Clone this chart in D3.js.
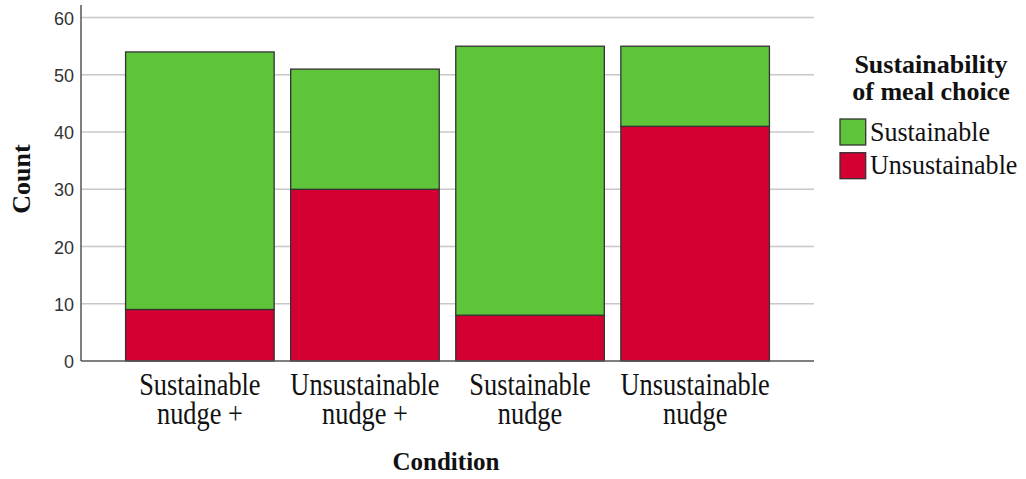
<!DOCTYPE html>
<html><head><meta charset="utf-8">
<script src="https://cdn.jsdelivr.net/npm/d3@7"></script>
<style>body{margin:0;background:#fff}svg{display:block}</style>
</head><body>
<svg id="c" width="1026" height="479"></svg>
<script>
const categories = [["Sustainable","nudge +"],["Unsustainable","nudge +"],["Sustainable","nudge"],["Unsustainable","nudge"]];
const seriesNames = ["Unsustainable","Sustainable"];
const unsustainable = [9, 30, 8, 41];
const sustainable = [45, 21, 47, 14];
const yTicks = [0,10,20,30,40,50,60];
const colors = {Sustainable:"#5ec43a", Unsustainable:"#d50032"};
const legendOrder = ["Sustainable","Unsustainable"];

const svg = d3.select("#c");
const catKeys = categories.map(c=>c.join(" "));
const x = d3.scaleBand().domain(catKeys).range([81,814]).paddingInner(0.1).paddingOuter(0.27);
const y = d3.scaleLinear().domain([0,62.2]).range([361,5]);

// gridlines
svg.append("g").selectAll("line").data(yTicks.filter(d=>d>0)).join("line")
  .attr("x1",81).attr("x2",814).attr("y1",d=>y(d)).attr("y2",d=>y(d))
  .attr("stroke","#c8c8c8").attr("stroke-width",1.5);

// stacked bars
const rows = catKeys.map((k,i)=>({key:k, Unsustainable:unsustainable[i], Sustainable:sustainable[i]}));
const stack = d3.stack().keys(seriesNames)(rows);
svg.append("g").selectAll("g").data(stack).join("g")
  .attr("fill",d=>colors[d.key])
  .selectAll("rect").data(d=>d).join("rect")
  .attr("x",d=>x(d.data.key)).attr("width",x.bandwidth())
  .attr("y",d=>y(d[1])).attr("height",d=>y(d[0])-y(d[1]))
  .attr("stroke","#333").attr("stroke-width",1.3);

// axes lines
svg.append("line").attr("x1",81).attr("x2",81).attr("y1",y(62.2)).attr("y2",y(0)).attr("stroke","#555").attr("stroke-width",1.5);
svg.append("line").attr("x1",81).attr("x2",814).attr("y1",y(0)).attr("y2",y(0)).attr("stroke","#555").attr("stroke-width",1.5);

// y tick labels
svg.append("g").selectAll("text").data(yTicks).join("text")
  .attr("x",74).attr("y",d=>y(d)).attr("dy","0.4em").attr("text-anchor","end")
  .attr("font-family","Liberation Sans, Arial, sans-serif").attr("font-size",18).attr("fill","#333")
  .text(d=>d);

// category labels
const cat = svg.append("g").selectAll("g").data(categories).join("g")
  .attr("transform",(d,i)=>`translate(${x(catKeys[i])+x.bandwidth()/2},395) scale(0.85,1)`);
cat.selectAll("text").data(d=>d).join("text")
  .attr("x",0).attr("y",(d,j)=>j*29.3).attr("text-anchor","middle")
  .attr("font-family","Liberation Serif, Times New Roman, serif").attr("font-size",31).attr("fill","#111")
  .text(d=>d);

// axis titles
svg.append("text").attr("x",446).attr("y",469.5).attr("text-anchor","middle")
  .attr("font-family","Liberation Serif, Times New Roman, serif").attr("font-weight","bold").attr("font-size",25).attr("fill","#111")
  .text("Condition");
svg.append("text").attr("transform","translate(30,179) rotate(-90)").attr("text-anchor","middle")
  .attr("font-family","Liberation Serif, Times New Roman, serif").attr("font-weight","bold").attr("font-size",26).attr("fill","#111")
  .text("Count");

// legend
const lt = svg.append("text").attr("text-anchor","middle")
  .attr("font-family","Liberation Serif, Times New Roman, serif").attr("font-weight","bold").attr("font-size",26).attr("fill","#111");
lt.append("tspan").attr("x",931).attr("y",73.3).text("Sustainability");
lt.append("tspan").attr("x",931).attr("y",100).text("of meal choice");
const li = svg.append("g").selectAll("g").data(legendOrder).join("g")
  .attr("transform",(d,i)=>`translate(840,${119+i*33.7})`);
li.append("rect").attr("x",0).attr("y",0).attr("width",25.7).attr("height",26)
  .attr("fill",d=>colors[d]).attr("stroke","#333").attr("stroke-width",1.3);
li.append("text").attr("transform","translate(30,21.7) scale(0.93,1)")
  .attr("font-family","Liberation Serif, Times New Roman, serif").attr("font-size",28).attr("fill","#111")
  .text(d=>d);
</script>
</body></html>
